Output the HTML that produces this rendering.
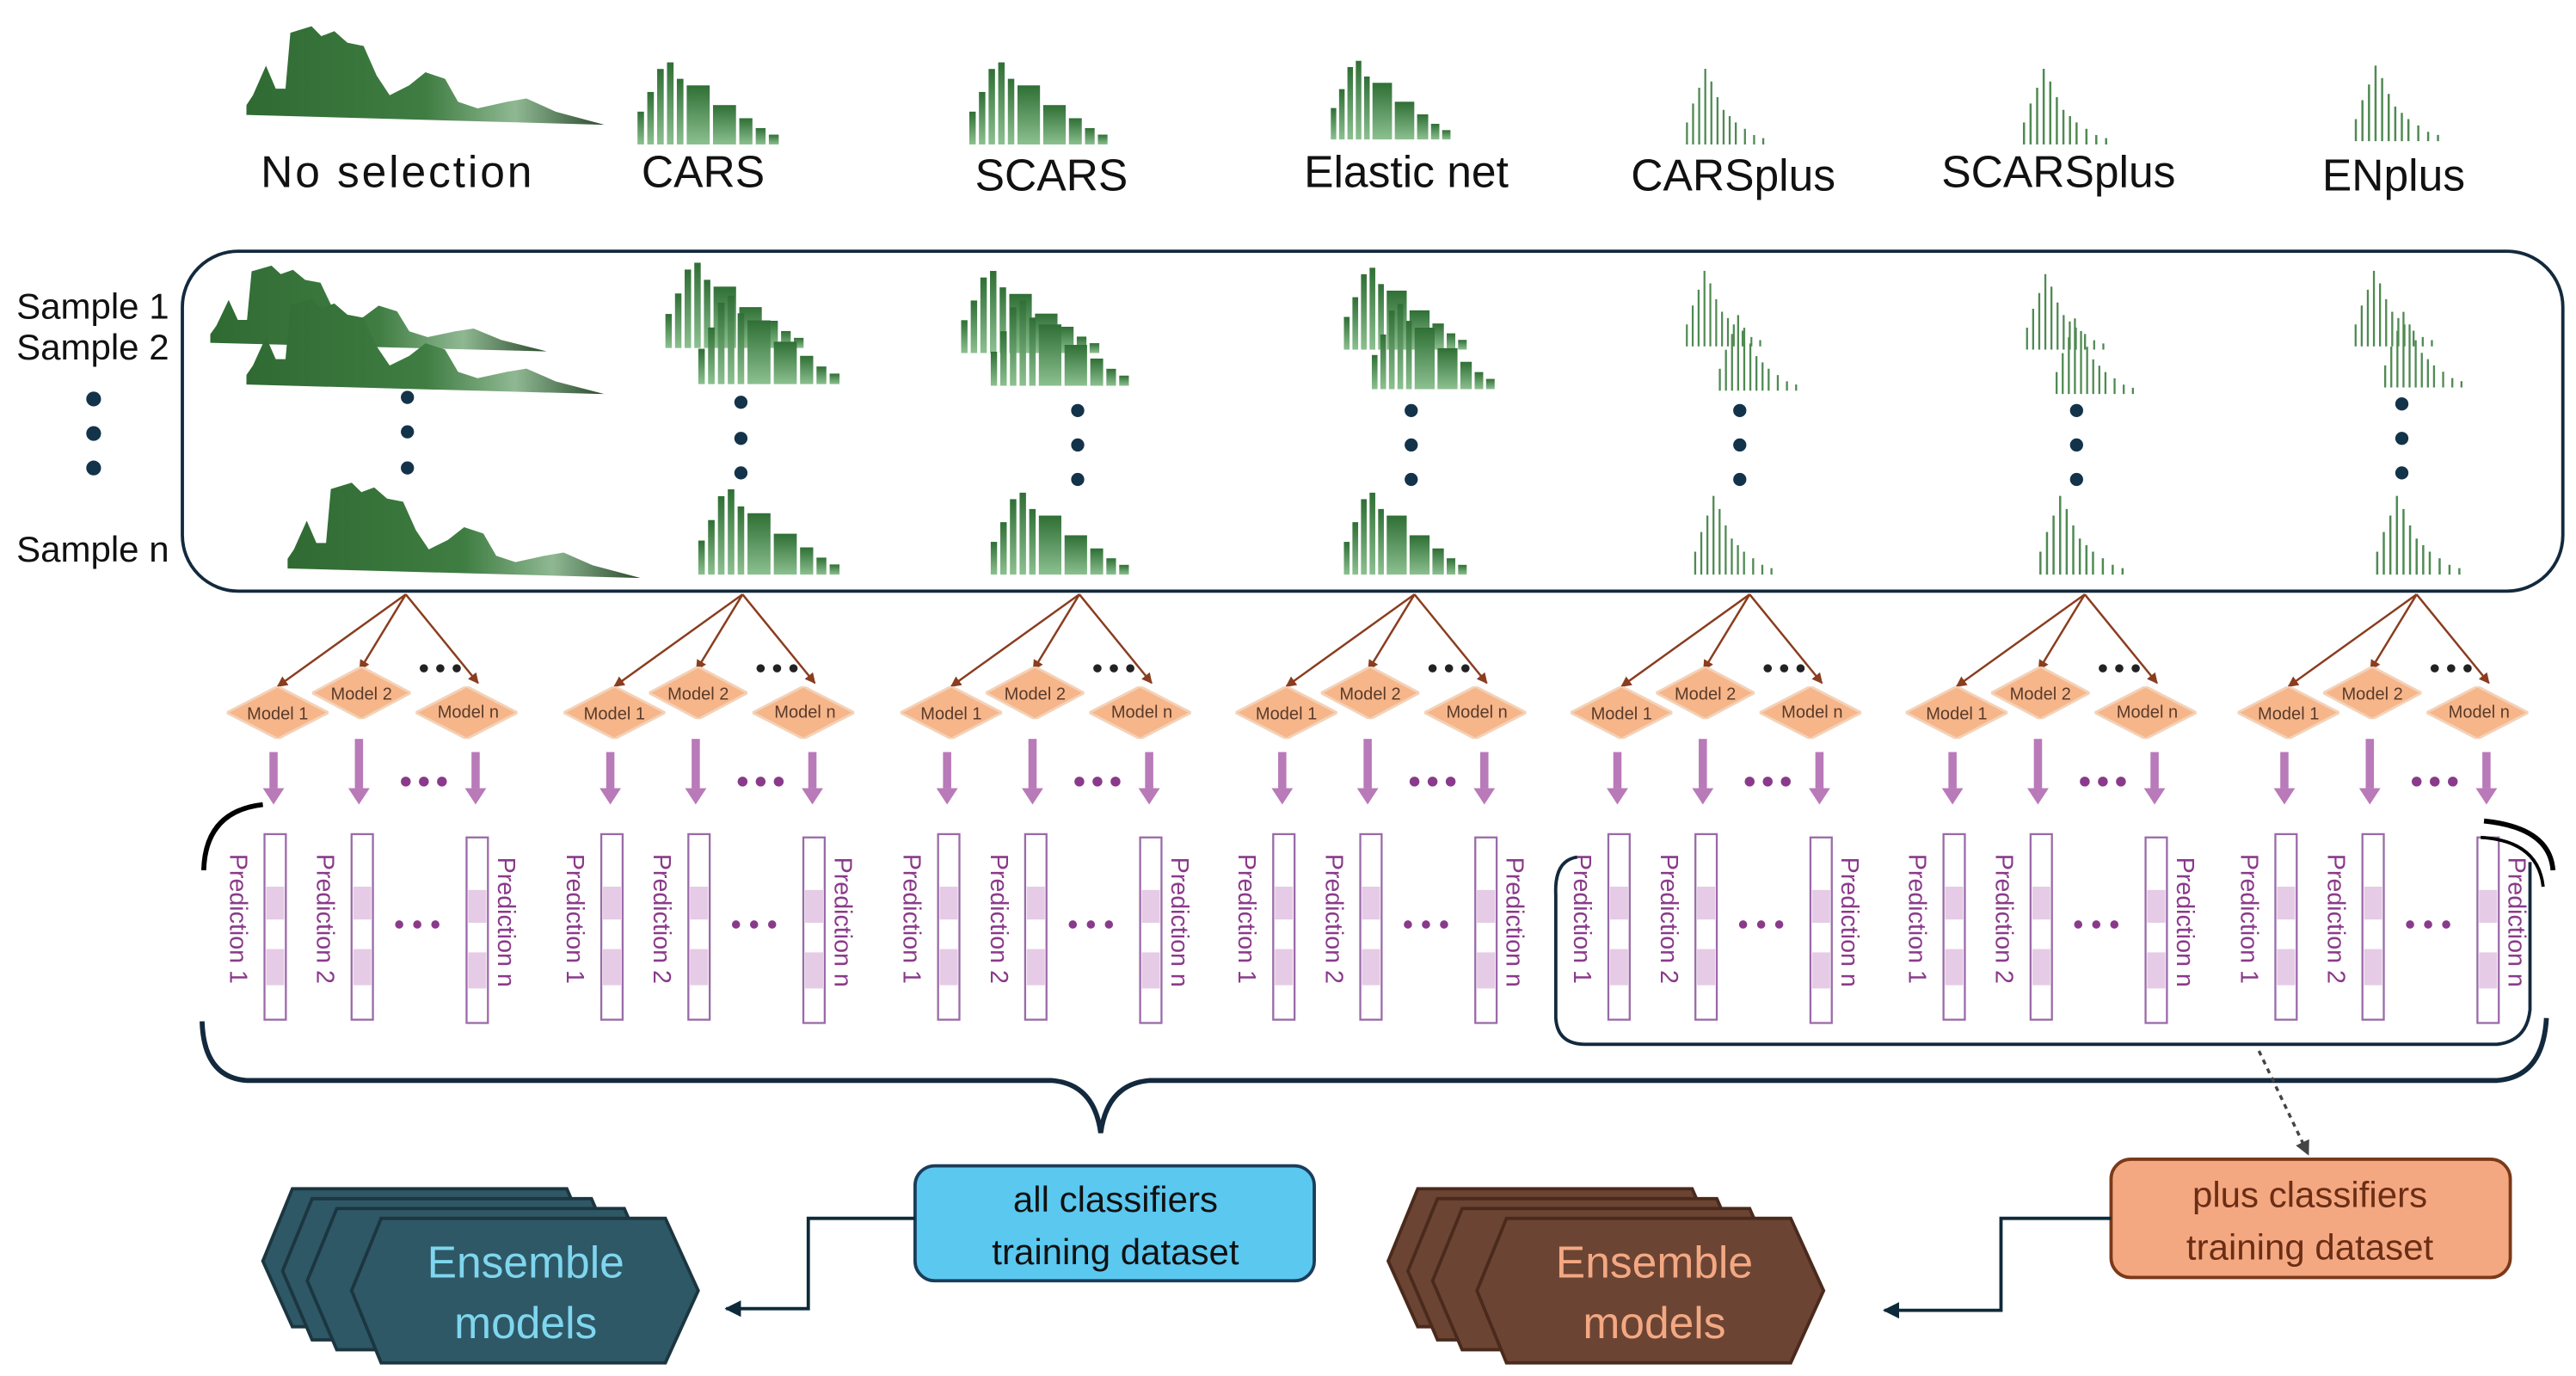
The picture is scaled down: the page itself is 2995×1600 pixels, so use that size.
<!DOCTYPE html>
<html><head><meta charset="utf-8"><style>html,body{margin:0;padding:0;background:#fff}svg{display:block}</style></head>
<body>
<svg width="2995" height="1600" viewBox="0 0 1568 838" preserveAspectRatio="none" xmlns="http://www.w3.org/2000/svg" font-family="Liberation Sans, sans-serif">
<defs>
<linearGradient id="g" x1="0" y1="0" x2="1" y2="0"><stop offset="0" stop-color="#2f6a32"/><stop offset="0.5" stop-color="#3f7d42"/><stop offset="0.75" stop-color="#8fb892"/><stop offset="1" stop-color="#2a4a2c"/></linearGradient>
<linearGradient id="gb" x1="0" y1="0" x2="0" y2="1"><stop offset="0" stop-color="#2f6f35"/><stop offset="1" stop-color="#8cc090"/></linearGradient>
<symbol id="sm" viewBox="0 0 220 62" preserveAspectRatio="none"><path d="M0,50 L4,44 L12,26 L18,40 L24,40 L27,6 L40,2 L46,8 L54,5 L62,12 L72,14 L80,32 L88,44 L100,38 L110,30 L122,34 L130,48 L142,52 L160,48 L172,46 L190,54 L220,62 L0,56 Z" fill="url(#g)"/></symbol>
<symbol id="bar" viewBox="0 0 92 50" preserveAspectRatio="none"><g fill="url(#gb)"><rect x="0" y="30" width="4" height="20"/><rect x="6" y="18" width="4" height="32"/><rect x="12" y="4" width="4" height="46"/><rect x="18" y="0" width="4" height="50"/><rect x="24" y="10" width="4" height="40"/><rect x="30" y="14" width="14" height="36"/><rect x="46" y="26" width="14" height="24"/><rect x="62" y="34" width="8" height="16"/><rect x="72" y="40" width="6" height="10"/><rect x="80" y="44" width="6" height="6"/></g></symbol>
<symbol id="thin" viewBox="0 0 56 50" preserveAspectRatio="none"><g stroke="#4f8a52" stroke-width="1.3"><line x1="2" y1="50" x2="2" y2="36"/><line x1="6" y1="50" x2="6" y2="24"/><line x1="10" y1="50" x2="10" y2="14"/><line x1="14" y1="50" x2="14" y2="2"/><line x1="18" y1="50" x2="18" y2="10"/><line x1="22" y1="50" x2="22" y2="20"/><line x1="26" y1="50" x2="26" y2="28"/><line x1="30" y1="50" x2="30" y2="32"/><line x1="34" y1="50" x2="34" y2="36"/><line x1="40" y1="50" x2="40" y2="40"/><line x1="46" y1="50" x2="46" y2="44"/><line x1="52" y1="50" x2="52" y2="46"/></g></symbol>
<symbol id="dia" viewBox="0 0 64 32" preserveAspectRatio="none"><path d="M0,16 L32,0 L64,16 L32,32 Z" fill="#f6b68a" stroke="#f3d2b8" stroke-width="1.5"/></symbol>
<marker id="ab" viewBox="0 0 10 10" refX="9" refY="5" markerWidth="5" markerHeight="5" orient="auto"><path d="M0,0 L10,5 L0,10 Z" fill="#8a3d1f"/></marker>
<marker id="ak" viewBox="0 0 10 10" refX="9" refY="5" markerWidth="5" markerHeight="5" orient="auto"><path d="M0,0 L10,5 L0,10 Z" fill="#0d2a3a"/></marker>
<marker id="ag" viewBox="0 0 10 10" refX="9" refY="5" markerWidth="5" markerHeight="5" orient="auto"><path d="M0,0 L10,5 L0,10 Z" fill="#444"/></marker>
</defs>

<g font-size="27" fill="#111" text-anchor="middle">
<text x="242" y="114" letter-spacing="1.5">No selection</text><text x="428" y="114">CARS</text><text x="640" y="116">SCARS</text><text x="856" y="114">Elastic net</text><text x="1055" y="116">CARSplus</text><text x="1253" y="114">SCARSplus</text><text x="1457" y="116">ENplus</text>
</g>
<use href="#sm" x="150" y="14" width="218" height="62"/>
<use href="#bar" x="388" y="38" width="92" height="50"/>
<use href="#bar" x="590" y="38" width="90" height="50"/>
<use href="#bar" x="810" y="37" width="78" height="48"/>
<use href="#thin" x="1025" y="40" width="52" height="48"/>
<use href="#thin" x="1230" y="40" width="56" height="48"/>
<use href="#thin" x="1432" y="38" width="56" height="48"/>

<rect x="111" y="153" width="1449" height="207" rx="34" fill="none" stroke="#13293d" stroke-width="2"/>
<g font-size="22" fill="#111"><text x="10" y="194">Sample 1</text><text x="10" y="219">Sample 2</text><text x="10" y="342">Sample n</text></g>
<g fill="#13334a"><circle cx="57" cy="243" r="4.5"/><circle cx="57" cy="264" r="4.5"/><circle cx="57" cy="285" r="4.5"/></g>

<use href="#sm" x="128" y="160" width="205" height="54"/>
<use href="#sm" x="150" y="180" width="218" height="60"/>
<use href="#sm" x="175" y="292" width="215" height="60"/>
<g fill="#13334a"><circle cx="248" cy="242" r="4"/><circle cx="248" cy="263" r="4"/><circle cx="248" cy="285" r="4"/></g>
<g>
<use href="#bar" x="405" y="160" width="90" height="52"/><use href="#bar" x="425" y="180" width="92" height="54"/><use href="#bar" x="425" y="298" width="92" height="52"/>
<use href="#bar" x="585" y="165" width="90" height="50"/><use href="#bar" x="603" y="183" width="90" height="52"/><use href="#bar" x="603" y="300" width="90" height="50"/>
<use href="#bar" x="818" y="163" width="80" height="50"/><use href="#bar" x="835" y="185" width="80" height="52"/><use href="#bar" x="818" y="300" width="80" height="50"/>
<use href="#thin" x="1025" y="163" width="50" height="48"/><use href="#thin" x="1045" y="190" width="52" height="48"/><use href="#thin" x="1030" y="300" width="52" height="50"/>
<use href="#thin" x="1232" y="165" width="52" height="48"/><use href="#thin" x="1250" y="192" width="52" height="48"/><use href="#thin" x="1240" y="300" width="56" height="50"/>
<use href="#thin" x="1432" y="163" width="52" height="48"/><use href="#thin" x="1450" y="188" width="52" height="48"/><use href="#thin" x="1445" y="300" width="56" height="50"/>
</g>
<g fill="#13334a">
<circle cx="451" cy="245" r="4"/><circle cx="451" cy="267" r="4"/><circle cx="451" cy="288" r="4"/>
<circle cx="656" cy="250" r="4"/><circle cx="656" cy="271" r="4"/><circle cx="656" cy="292" r="4"/>
<circle cx="859" cy="250" r="4"/><circle cx="859" cy="271" r="4"/><circle cx="859" cy="292" r="4"/>
<circle cx="1059" cy="250" r="4"/><circle cx="1059" cy="271" r="4"/><circle cx="1059" cy="292" r="4"/>
<circle cx="1264" cy="250" r="4"/><circle cx="1264" cy="271" r="4"/><circle cx="1264" cy="292" r="4"/>
<circle cx="1462" cy="246" r="4"/><circle cx="1462" cy="267" r="4"/><circle cx="1462" cy="288" r="4"/>
</g>

<g id="col">
<g stroke="#8a3d1f" stroke-width="1.3" fill="none" marker-end="url(#ab)">
<line x1="247" y1="362" x2="169" y2="418"/><line x1="247" y1="362" x2="219" y2="408"/><line x1="247" y1="362" x2="291" y2="416"/>
</g>
<use href="#dia" x="138" y="418" width="62" height="32"/>
<use href="#dia" x="190" y="406" width="60" height="32"/>
<use href="#dia" x="253" y="418" width="62" height="32"/>
<g font-size="10.5" fill="#5a3a2a" text-anchor="middle"><text x="169" y="438">Model 1</text><text x="220" y="426">Model 2</text><text x="285" y="437">Model n</text></g>
<g fill="#222"><circle cx="258" cy="407" r="2.5"/><circle cx="268" cy="407" r="2.5"/><circle cx="278" cy="407" r="2.5"/></g>
<g fill="#b97ab9"><rect x="164" y="458" width="5" height="22"/><path d="M160,480 L173,480 L166.5,490 Z"/>
<rect x="216" y="450" width="5" height="30"/><path d="M212,480 L225,480 L218.5,490 Z"/>
<rect x="287" y="458" width="5" height="22"/><path d="M283,480 L296,480 L289.5,490 Z"/></g>
<g fill="#8a3a8a"><circle cx="247" cy="476" r="3"/><circle cx="258" cy="476" r="3"/><circle cx="269" cy="476" r="3"/>
<circle cx="243" cy="563" r="2.5"/><circle cx="254" cy="563" r="2.5"/><circle cx="265" cy="563" r="2.5"/></g>
<g fill="#fff" stroke="#9a6aa8" stroke-width="1.2"><rect x="161" y="508" width="13" height="113"/><rect x="214" y="508" width="13" height="113"/><rect x="284" y="510" width="13" height="113"/></g>
<g fill="#e6cbe6"><rect x="162" y="540" width="11" height="20"/><rect x="162" y="578" width="11" height="22"/><rect x="215" y="540" width="11" height="20"/><rect x="215" y="578" width="11" height="22"/><rect x="285" y="542" width="11" height="20"/><rect x="285" y="580" width="11" height="22"/></g>
<g font-size="15" fill="#8a3a8a"><text transform="translate(140,520) rotate(90)">Prediction 1</text><text transform="translate(193,520) rotate(90)">Prediction 2</text><text transform="translate(303,522) rotate(90)">Prediction n</text></g>
</g>
<use href="#col" x="205"/><use href="#col" x="410"/><use href="#col" x="614"/><use href="#col" x="818"/><use href="#col" x="1022"/><use href="#col" x="1224"/>

<path d="M160,490 Q125,494 124,530" fill="none" stroke="#000" stroke-width="3"/>
<path d="M123,622 Q124,656 150,658 L640,658 Q666,660 670,690 Q674,660 700,658 L1520,658 Q1548,656 1550,620" fill="none" stroke="#13293d" stroke-width="3"/>
<path d="M1512,500 Q1552,504 1554,530" fill="none" stroke="#000" stroke-width="3"/>
<path d="M1510,510 Q1545,512 1548,540" fill="none" stroke="#000" stroke-width="2"/>
<path d="M960,522 Q946,524 947,545 L947,620 Q948,636 965,636 L1520,636 Q1538,634 1540,615 L1540,525" fill="none" stroke="#13293d" stroke-width="2"/>
<line x1="1375" y1="640" x2="1405" y2="703" stroke="#444" stroke-width="1.8" stroke-dasharray="3,3" marker-end="url(#ag)"/>

<rect x="557" y="710" width="243" height="70" rx="12" fill="#5bc8f0" stroke="#1a3d5c" stroke-width="2"/>
<g font-size="22" fill="#111" text-anchor="middle"><text x="679" y="738">all classifiers</text><text x="679" y="770">training dataset</text></g>
<rect x="1285" y="706" width="243" height="72" rx="12" fill="#f4a882" stroke="#7a3a1a" stroke-width="2"/>
<g font-size="22" fill="#6b2e14" text-anchor="middle"><text x="1406" y="735">plus classifiers</text><text x="1406" y="767">training dataset</text></g>
<path d="M557,742 L492,742 L492,797 L442,797" fill="none" stroke="#0d2a3a" stroke-width="2" marker-end="url(#ak)"/>
<path d="M1285,742 L1218,742 L1218,798 L1147,798" fill="none" stroke="#0d2a3a" stroke-width="2" marker-end="url(#ak)"/>

<g stroke="#1c3640" stroke-width="2" fill="#2e5866">
<path d="M178,724 L345,724 L365,770 L345,808 L178,808 L160,768 Z"/>
<path d="M190,730 L360,730 L380,776 L360,816 L190,816 L172,774 Z"/>
<path d="M205,736 L380,736 L400,782 L380,822 L205,822 L187,780 Z"/>
<path d="M232,742 L405,742 L425,786 L405,830 L232,830 L214,786 Z"/>
</g>
<g font-size="27" fill="#7fd6ee" text-anchor="middle"><text x="320" y="778">Ensemble</text><text x="320" y="815">models</text></g>
<g stroke="#4a2a1c" stroke-width="2" fill="#6b4434">
<path d="M863,724 L1030,724 L1050,770 L1030,808 L863,808 L845,768 Z"/>
<path d="M875,730 L1045,730 L1065,776 L1045,816 L875,816 L857,774 Z"/>
<path d="M890,736 L1065,736 L1085,782 L1065,822 L890,822 L872,780 Z"/>
<path d="M917,742 L1090,742 L1110,786 L1090,830 L917,830 L899,786 Z"/>
</g>
<g font-size="27" fill="#f4a882" text-anchor="middle"><text x="1007" y="778">Ensemble</text><text x="1007" y="815">models</text></g>
</svg>
</body></html>
